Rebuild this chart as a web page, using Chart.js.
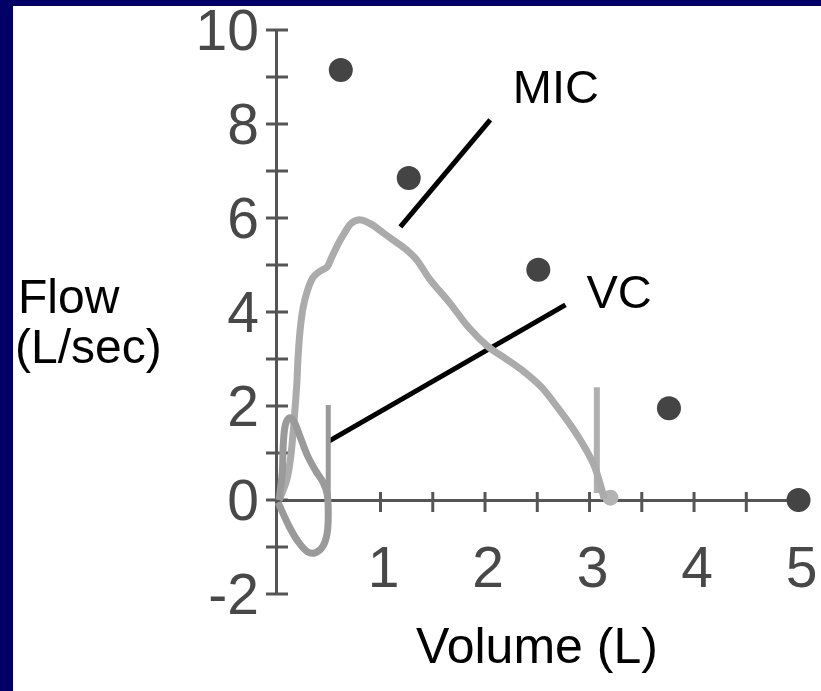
<!DOCTYPE html>
<html><head><meta charset="utf-8">
<script src="https://cdn.jsdelivr.net/npm/chart.js@4/dist/chart.umd.min.js"></script>
<style>
html,body{margin:0;padding:0;background:#000066;width:821px;height:691px;overflow:hidden;}
#wrap{position:absolute;left:13px;top:6px;width:808px;height:685px;background:#fff;}
canvas{display:block}
</style></head><body>
<div id="wrap"><canvas id="c" width="808" height="685"></canvas></div>
<script>
// ---- data ----
const yTickLabels = ['-2','0','2','4','6','8','10'];
const xTickLabels = ['1','2','3','4','5'];

// MIC flow-volume curve (light grey)
const micVolume = [0.03,0.10,0.14,0.17,0.20,0.21,0.23,0.26,0.30,0.35,0.41,0.49,0.53,0.60,0.66,0.72,0.81,0.91,1.04,1.16,1.25,1.35,1.47,1.66,1.84,2.03,2.19,2.35,2.54,2.69,2.85,2.97,3.05,3.11,3.14];
const micFlow   = [0.00,0.40,0.90,1.60,2.50,3.00,3.60,4.10,4.45,4.72,4.85,4.96,5.15,5.47,5.70,5.89,5.96,5.87,5.66,5.47,5.32,5.10,4.70,4.20,3.68,3.26,3.02,2.77,2.40,1.98,1.49,1.06,0.70,0.28,0.02];

// VC (tidal) loop (medium grey)
const vcVolume = [0.03,0.06,0.07,0.09,0.13,0.17,0.23,0.30,0.38,0.45,0.49,0.50,0.49,0.45,0.38,0.30,0.21,0.13,0.07,0.02];
const vcFlow   = [0.00,0.60,1.20,1.60,1.75,1.68,1.35,0.95,0.62,0.38,0.12,-0.30,-0.70,-0.98,-1.12,-1.10,-0.88,-0.58,-0.30,-0.05];

// vertical markers
const vcMarkVolume = [0.50,0.50];
const vcMarkFlow   = [2.02,0.00];
const micMarkVolume = [3.07,3.07];
const micMarkFlow   = [2.40,0.15];
const micEndVolume = [3.20];
const micEndFlow   = [0.05];

// predicted points (dark dots)
const predVolume = [0.62,1.27,2.51,3.76,5.00];
const predFlow   = [9.15,6.85,4.90,1.95,0.00];

// annotation pointer lines
const micPtrVolume = [1.19,2.05];
const micPtrFlow   = [5.81,8.09];
const vcPtrVolume  = [0.49,2.77];
const vcPtrFlow    = [1.23,4.15];

// annotation labels
const labelTexts  = ['MIC','VC'];
const labelVolume = [2.266,2.97];
const labelFlow   = [8.45,4.09];

const pts = (xs, ys) => xs.map((x,i)=>({x, y: ys[i]}));

const tickFont = {family:'"Liberation Sans", Arial, sans-serif', size:57};
const axisColor = '#555555';
const tickColor = '#484848';

const decor = {
  id:'decor',
  beforeDatasetsDraw(chart){
    const {ctx, scales:{x,y}} = chart;
    ctx.save();
    ctx.strokeStyle = axisColor; ctx.lineWidth = 3; ctx.lineCap='butt';
    const x0 = x.getPixelForValue(0), y0 = y.getPixelForValue(0);
    y.ticks.forEach(t=>{
      const py = y.getPixelForValue(t.value);
      ctx.beginPath(); ctx.moveTo(x0-10, py); ctx.lineTo(x0+12, py); ctx.stroke();
    });
    x.ticks.forEach(t=>{
      if (t.value <= 0) return;
      const px = x.getPixelForValue(t.value);
      ctx.beginPath(); ctx.moveTo(px, y0-8); ctx.lineTo(px, y0+12); ctx.stroke();
    });
    ctx.restore();
  },
  afterDraw(chart){
    const {ctx, scales:{x,y}} = chart;
    ctx.save();
    ctx.fillStyle = '#000';
    ctx.textBaseline = 'alphabetic';
    ctx.textAlign = 'left';
    ctx.font = '47px "Liberation Sans", Arial, sans-serif';
    labelTexts.forEach((t,i)=>{
      ctx.fillText(t, x.getPixelForValue(labelVolume[i]), y.getPixelForValue(labelFlow[i]));
    });
    // axis titles
    ctx.font = '48px "Liberation Sans", Arial, sans-serif';
    ctx.fillText('Flow', 5, 307);
    ctx.fillText('(L/sec)', 2, 357);
    ctx.textAlign = 'center';
    ctx.font = '50px "Liberation Sans", Arial, sans-serif';
    ctx.fillText('Volume (L)', 524, 657);
    ctx.restore();
  }
};

new Chart(document.getElementById('c'), {
  type: 'scatter',
  data: {
    datasets: [
      {label:'VC loop', data: pts(vcVolume, vcFlow), showLine:true, borderColor:'#9a9a9a', borderWidth:7, pointRadius:0, tension:0.35, clip:false},
      {label:'VC mark', data: pts(vcMarkVolume, vcMarkFlow), showLine:true, borderColor:'#9a9a9a', borderWidth:5, pointRadius:0, clip:false},
      {label:'MIC', data: pts(micVolume, micFlow), showLine:true, borderColor:'#ababab', borderWidth:7, pointRadius:0, tension:0.3, clip:false},
      {label:'MIC mark', data: pts(micMarkVolume, micMarkFlow), showLine:true, borderColor:'#b0b0b0', borderWidth:6, pointRadius:0, clip:false},
      {label:'MIC end', data: pts(micEndVolume, micEndFlow), pointRadius:8, pointBackgroundColor:'#b3b3b3', pointBorderWidth:0, clip:false},
      {label:'Predicted', data: pts(predVolume, predFlow), pointRadius:12, pointBackgroundColor:'#444444', pointBorderWidth:0, clip:false},
      {label:'MIC pointer', data: pts(micPtrVolume, micPtrFlow), showLine:true, borderColor:'#000', borderWidth:5, pointRadius:0, clip:false},
      {label:'VC pointer', data: pts(vcPtrVolume, vcPtrFlow), showLine:true, borderColor:'#000', borderWidth:5, pointRadius:0, clip:false}
    ]
  },
  options: {
    responsive:false, animation:false, devicePixelRatio:1,
    layout:{padding:{top:24, bottom:97, left:0, right:0}},
    plugins:{legend:{display:false}, tooltip:{enabled:false}},
    events:[],
    scales:{
      x:{
        type:'linear', min:0, max:5.1, position:{y:0},
        grid:{display:false, drawTicks:false, tickLength:0},
        border:{display:true, color:axisColor, width:3},
        ticks:{stepSize:0.5, includeBounds:false, autoSkip:false, maxRotation:0, padding:37, labelOffset:3, color:tickColor, font:tickFont,
          callback:(v)=> xTickLabels.includes(String(v)) ? String(v) : ''},
        afterFit:(s)=>{ s.paddingLeft=0; s.paddingRight=0; }
      },
      y:{
        type:'linear', min:-2, max:10, position:'left',
        grid:{display:false, drawTicks:false, tickLength:0},
        border:{display:true, color:axisColor, width:3},
        ticks:{stepSize:1, autoSkip:false, padding:17, labelOffset:4, color:tickColor, font:tickFont,
          callback:(v)=> yTickLabels.includes(String(v)) ? String(v) : ''},
        afterFit:(s)=>{ s.width=263; s.paddingTop=0; s.paddingBottom=0; }
      }
    }
  },
  plugins:[decor]
});
</script>
</body></html>
